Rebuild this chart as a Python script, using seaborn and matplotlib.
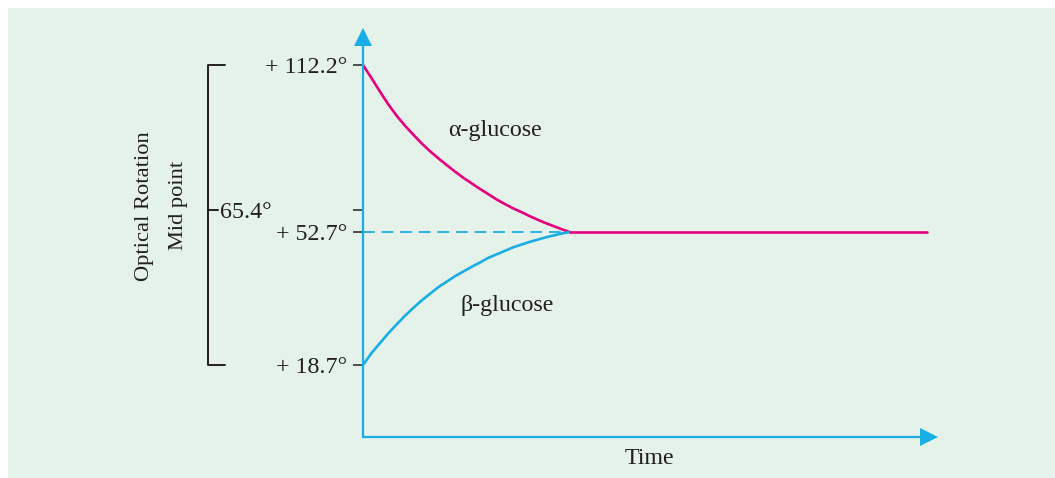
import numpy as np
import pandas as pd
import matplotlib
matplotlib.use("Agg")
import matplotlib.pyplot as plt
from matplotlib.patches import Rectangle
import seaborn as sns

# ---- data ----
time_alpha = [0.0, 0.151, 0.296, 0.441, 0.587, 0.732, 0.877, 1.022, 1.167, 1.312,
              1.458, 1.603, 1.748, 1.893, 2.038, 2.184, 2.329, 2.474, 2.619, 2.764,
              2.909, 3.055, 3.200, 3.345, 3.461, 3.6]
rot_alpha = [112.2, 107.9, 103.6, 99.5, 95.8, 92.6, 89.7, 86.9, 84.4, 82.1,
             79.9, 77.8, 75.8, 74.0, 72.2, 70.5, 68.8, 67.3, 65.9, 64.1,
             61.8, 59.6, 57.6, 55.8, 54.3, 52.7]
time_beta = [0.0, 0.151, 0.296, 0.441, 0.587, 0.732, 0.877, 1.022, 1.167, 1.312,
             1.458, 1.603, 1.748, 1.893, 2.038, 2.184, 2.329, 2.474, 2.619, 2.764,
             2.909, 3.055, 3.200, 3.345, 3.461, 3.6]
rot_beta = [18.7, 21.8, 24.3, 26.8, 29.1, 31.3, 33.3, 35.2, 36.9, 38.6,
            40.0, 41.4, 42.6, 43.8, 44.9, 46.1, 47.0, 47.9, 48.8, 49.5,
            50.2, 50.8, 51.4, 51.9, 52.3, 52.7]
time_equil = [3.6, 9.83]
rot_equil = [52.7, 52.7]
time_dash = [0.0, 3.6]
rot_dash = [52.7, 52.7]
tick_values = [18.7, 52.7, 65.4, 112.2]
tick_labels = ["+ 18.7°", "+ 52.7°", "", "+ 112.2°"]
mid_value = 65.4
mid_label = "65.4°"
series_names = ["α-glucose", "β-glucose"]

# schematic (non-proportional) vertical scale of the drawing
scale_vals = [-1000.0, 0.0, 18.7, 52.7, 65.4, 112.2, 130.0, 1000.0]
scale_pos = [-3850.0, 0.0, 72.0, 205.0, 227.0, 372.0, 427.0, 3000.0]

def fwd(v):
    return np.interp(v, scale_vals, scale_pos)

def inv(p):
    return np.interp(p, scale_pos, scale_vals)

CYAN = "#19AEE6"
MAGENTA = "#E5007E"
INK = "#231F20"
BG = "#E4F2EA"
FS = 17.3

sns.set_theme(style="white")
plt.rcParams["font.family"] = ["Liberation Serif", "DejaVu Serif"]

fig = plt.figure(figsize=(10.55, 4.78), dpi=100, facecolor="white")
fig.patches.append(Rectangle((8 / 1055, 0), 1 - 8 / 1055, 1 - 8 / 478,
                             transform=fig.transFigure, facecolor=BG,
                             edgecolor="none", zorder=-10))

ax = fig.add_axes([363 / 1055, 41 / 478, 566 / 1055, 400 / 478])
ax.set_facecolor("none")
ax.set_yscale("function", functions=(fwd, inv))
ax.set_xlim(0, 566 / 57.4)
ax.set_ylim(0, inv(400.0))

df = pd.DataFrame({
    "time": time_alpha + time_beta,
    "rotation": rot_alpha + rot_beta,
    "series": [series_names[0]] * len(time_alpha) + [series_names[1]] * len(time_beta),
})
sns.lineplot(data=df, x="time", y="rotation", hue="series", estimator=None,
             sort=False, palette={series_names[0]: MAGENTA, series_names[1]: CYAN},
             linewidth=1.9, legend=False, ax=ax)
ax.plot(time_dash, rot_dash, color=CYAN, lw=1.3, dashes=(6.5, 3.8), zorder=1)
ax.plot(time_equil, rot_equil, color=MAGENTA, lw=1.9, zorder=3)

# axes styling
for s in ("top", "right"):
    ax.spines[s].set_visible(False)
for s in ("left", "bottom"):
    ax.spines[s].set_color(CYAN)
    ax.spines[s].set_linewidth(1.6)
ax.set_xticks([])
ax.set_yticks(tick_values)
ax.set_yticklabels(tick_labels)
ax.tick_params(axis="y", direction="out", length=7.5, width=1.1, color=INK,
               labelsize=FS, labelcolor=INK, pad=4, left=True)
ax.set_xlabel("")
ax.set_ylabel("")

# arrow heads
ax.plot([0], [1], marker="^", markersize=12.5, color=CYAN, transform=ax.transAxes,
        clip_on=False, zorder=5, markeredgewidth=0)
ax.plot([1], [0], marker=">", markersize=12.5, color=CYAN, transform=ax.transAxes,
        clip_on=False, zorder=5, markeredgewidth=0)

# bracket on the left
bx0 = (208 - 363) / 57.4
bx1 = (225 - 363) / 57.4
bxm = (218 - 363) / 57.4
ax.plot([bx1, bx0, bx0, bx1], [tick_values[3], tick_values[3], tick_values[0], tick_values[0]],
        color=INK, lw=1.4, clip_on=False)
ax.plot([bx0, bxm], [mid_value, mid_value], color=INK, lw=1.4, clip_on=False)
ax.text((220 - 363) / 57.4, 63.8, mid_label, ha="left", va="center",
        fontsize=FS, color=INK, clip_on=False)

# labels
ax.text((448 - 363) / 57.4, 91.2, series_names[0], ha="left", va="center",
        fontsize=FS, color=INK)
ax.text((460 - 363) / 57.4, 33.8, series_names[1], ha="left", va="center",
        fontsize=FS, color=INK)
fig.text(649 / 1055, 1 - 459 / 478, "Time", ha="center", va="center",
         fontsize=FS, color=INK)
fig.text(144 / 1055, 1 - 206 / 478, "Optical Rotation", ha="center", va="center",
         rotation=90, fontsize=16.2, color=INK)
fig.text(179 / 1055, 1 - 205 / 478, "Mid point", ha="center", va="center",
         rotation=90, fontsize=16.2, color=INK)

fig.savefig("out.png", dpi=100, facecolor="white")
